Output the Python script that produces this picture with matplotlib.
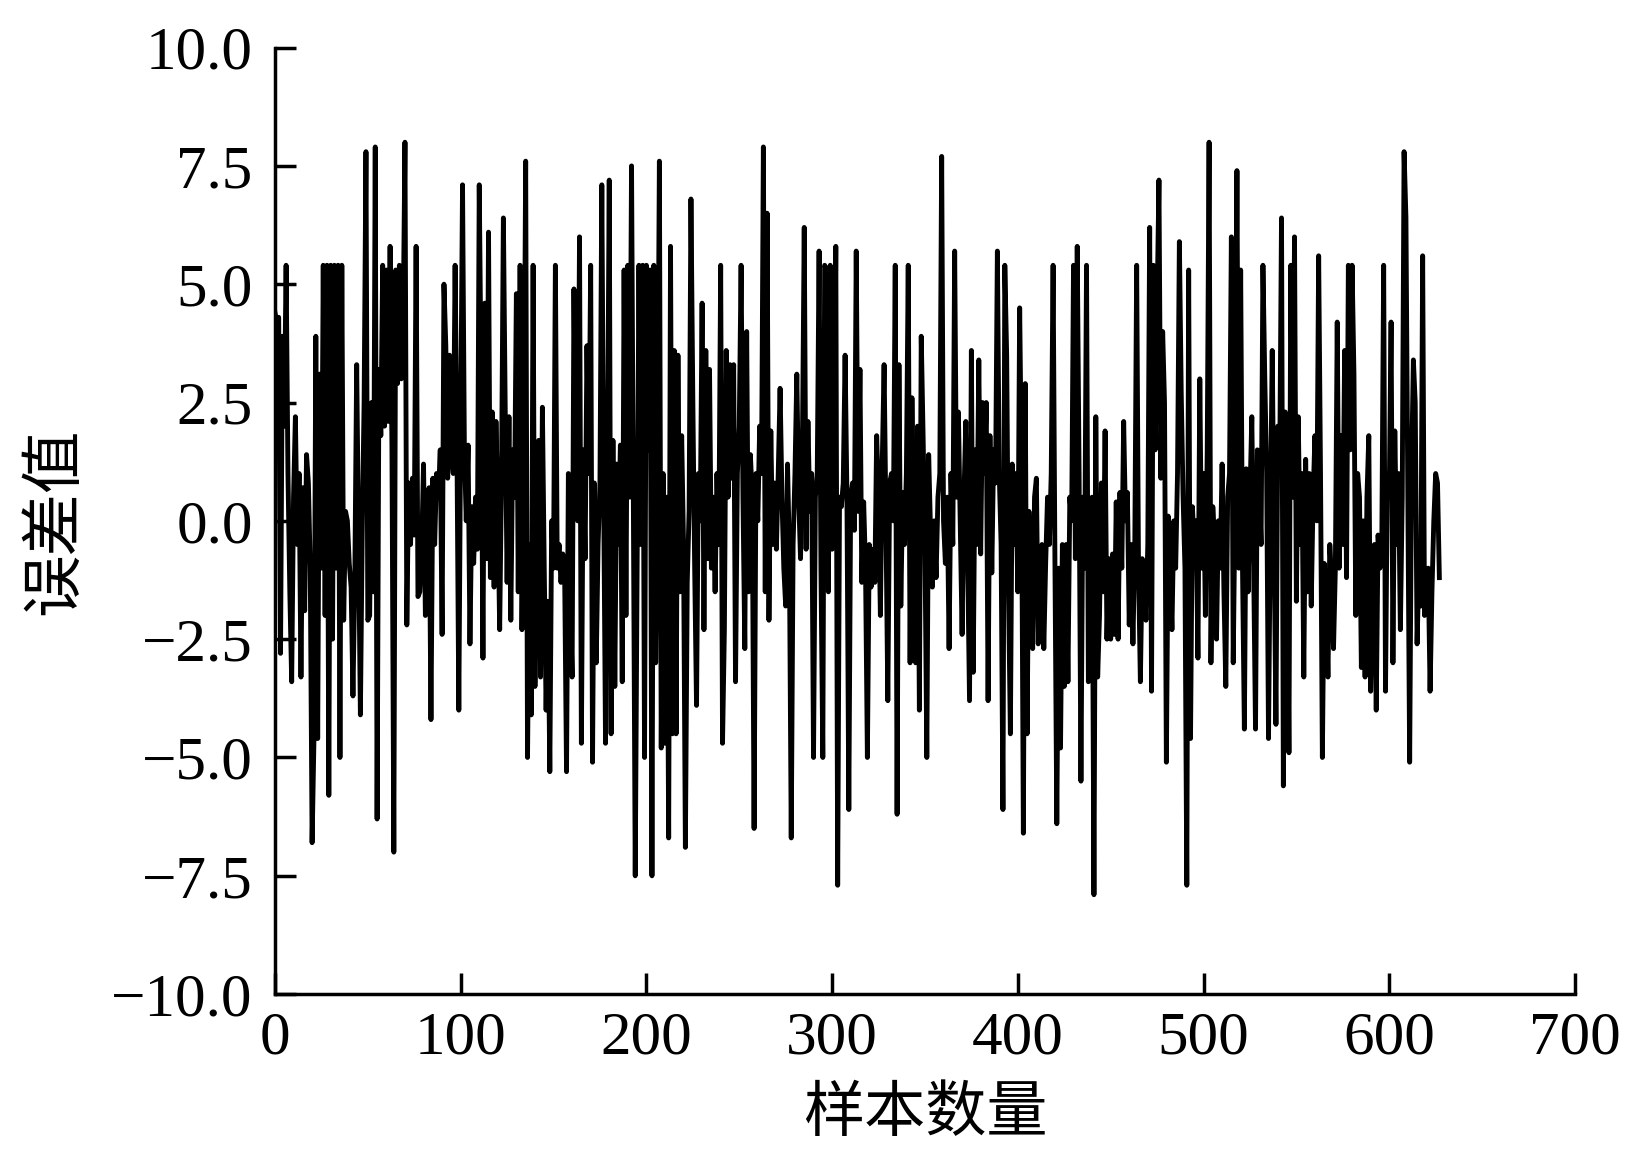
import numpy as np
import matplotlib
matplotlib.use('Agg')
import matplotlib.pyplot as plt

# Datos del error, leídos a ojo del gráfico (muestra 0 a 627)
err_000 = [4.4, 4.2, 4.3, -2.8, 3.9, 2.0, 5.4, 1.0, -1.5, -3.4,
           0.5, 2.2, -0.5, 1.0, -3.3, 0.7, -1.9, 1.4, 0.8, -1.0,
           -6.8, -4.6, 3.9, -4.6, 3.1, -1.0, 5.4, -2.0, 5.4, -5.8,
           5.4, -2.5, 5.4, -1.0, 5.4, -5.0, 5.4, -2.1, 0.2, 0.0,
           -0.9, -1.4, -3.7, -1.2, 3.3, -0.5, -4.1, -0.2, 2.5, 7.8,
           -2.1, -2.0, 2.5, -1.5, 7.9, -6.3, 3.2, 1.8, 5.4, 2.0,
           5.3, 2.1, 5.8, 1.5]
err_064 = [-7.0, 5.3, 2.9, 5.4, 3.0, 4.0, 8.0, -2.2, 0.8, -0.5,
           0.9, -0.3, 5.8, -1.6, -1.5, -0.6, 1.2, -2.0, 0.3, 0.7,
           -4.2, 0.9, -0.5, 1.0, 0.5, 1.5, -2.4, 5.0, 3.7, 0.9,
           3.5, 1.5, 1.0, 5.4, 1.5, -4.0, 2.0, 7.1, 1.5, 0.0,
           1.6, -2.6, 0.3, -0.9, 0.5, -0.6, 7.1, 3.0, -2.9, 4.6,
           -0.8, 6.1, -1.2, 2.3, -1.4, 2.1, 0.3, -2.3, 1.0, 6.4]
err_124 = [2.3, -1.3, 2.2, -2.1, 1.5, 0.5, 4.8, -1.5, 5.4, -2.3,
           1.0, 7.6, -5.0, -0.5, -4.1, 5.4, -3.5, 0.5, 1.7, -3.3,
           2.4, -1.0, -4.0, -1.7, -5.3, 0.0, -1.0, 5.4, -1.0, -0.5,
           -1.3, -0.7, -1.2, -5.3, 1.0, -1.5, -3.3, 4.9, 1.0, 0.0,
           6.0, -4.7, 1.5, -0.8, 3.7, 1.0, 5.4, -5.1, 0.8, -3.0,
           -0.5, 0.8, 7.1, 0.5, -4.7, 1.0, 7.2]
err_181 = [-4.5, 1.7, -3.5, 1.2, -0.5, 1.6, -3.4, 5.3, -2.0, 5.4,
           0.5, 7.5, 0.3, -7.5, -1.0, 5.4, -0.5, 5.4, -5.0, 5.4,
           1.5, 5.3, -7.5, 5.4, -3.0, 1.0, 7.6, -4.8, 1.0, -4.7,
           0.5, -6.7, 5.8, -4.5, 3.6, -4.5, 3.5, -1.5, 1.8, -0.5,
           -6.9, -1.3, 0.2, 6.8, 2.6, -1.0, -3.9, 1.0, 0.0, 4.6,
           -2.3, 3.6, -0.8, 3.2, -1.0, 0.5, -1.5, 1.0, -0.5, 5.4,
           -4.7, -2.3, 3.6, 0.5]
err_245 = [3.3, 0.9, 3.3, -3.4, 1.0, 2.0, 5.4, 0.5, -2.7, 4.0,
           -1.5, 1.4, 0.5, -6.5, 1.0, 0.0, 2.0, 1.0, 7.9, -1.5,
           6.5, -2.1, 1.9, -0.5, 0.8, -0.6, 1.0, 2.8, 0.5, -1.0,
           -1.8, 1.2, -0.7, -6.7, -0.5, 1.0, 3.1, 0.5, -0.8, 1.5,
           6.2, -0.6, 2.1, 0.2, 1.0, -5.0, 0.5, 1.0, 5.7, -1.0,
           -5.0, 5.4, 5.3, -1.5, 5.4, -0.6, 1.0, 5.8, -7.7]
err_304 = [0.5, 0.3, 0.8, 3.5, 0.5, -6.1, 0.5, 0.8, -0.2, 5.7,
           0.2, 3.2, -1.3, 0.4, -1.0, -5.0, -0.5, -1.4, -0.6, -1.3,
           1.8, 0.5, -2.0, 1.2, 3.3, 0.0, -3.8, 0.8, 1.0, 0.0,
           5.4, -6.2, 3.3, -1.8, 0.6, -0.5, 1.0, 5.4, -3.0, 2.6,
           -0.5, -3.0, 2.0, -4.0, 3.9, 1.8, -0.5, -5.0, 1.4, -0.2,
           -1.4, 0.0, -1.2, 0.5, 1.0, 7.7, 0.0, -0.9, 0.5, -2.7,
           1.0, -0.5]
err_366 = [5.7, 0.5, 2.3, 0.0, -2.4, 0.5, 2.1, -0.8, -3.8, 3.6,
           -3.2, 1.5, -0.5, 3.4, -0.7, 2.5, 1.0, 2.5, -3.8, 1.8,
           -1.1, 1.5, 0.8, 5.7, 1.0, -0.5, -6.1, 5.4, 3.5, -1.5,
           -4.5, 1.2, -0.5, 1.0, -1.5, 4.5, 1.0, -6.6, 2.9, -4.5,
           0.2, -1.2, -2.7, 0.5, 0.9, -2.6, -0.8, -0.5, -2.7, -0.9,
           0.5, -0.5, 1.0, 5.4, -0.9, -6.4, -1.0, -4.8, -0.5, -3.5]
err_426 = [-0.5, -3.4, 0.5, 0.0, 5.4, -0.8, 5.8, 1.0, -5.5, 0.5,
           -1.0, 5.4, -3.4, -1.0, 0.5, -7.9, 2.2, -3.3, -2.0, 0.8,
           -1.5, 1.9, -2.5, -0.8, -2.5, -0.7, -2.4, 0.4, -2.5, 0.6,
           -1.0, 2.1, 0.0, 0.6, -2.2, -0.5, -2.6, -0.5, 5.4, -1.0,
           -3.4, -0.8, -1.0, -2.1, -0.5, 6.2, -3.6, 5.4, 1.5, 4.5,
           7.2, 0.9, 4.0, 2.5, -5.1, 0.1, -1.0, -2.3, 0.0, -1.0,
           1.0, 5.9]
err_488 = [2.7, 0.5, -1.0, -7.7, 5.3, -4.6, 0.3, -0.5, 0.0, -2.9,
           3.0, -1.0, 1.0, -2.0, 1.5, 8.0, -3.0, 0.3, -0.5, -2.5,
           0.0, -1.0, 1.2, -1.5, -3.5, 0.5, 1.0, 6.0, -3.0, 0.5,
           7.4, -1.0, 5.3, -1.0, -4.4, 1.1, -1.5, 0.5, 2.2, -1.0,
           -4.4, 1.5, 0.8, -0.5, 5.4, 3.0, 1.0, -4.6, 0.0, 3.6,
           -0.5, -4.3, 2.0, 1.0, 6.4, -5.6, 2.3, 0.0, -4.9, 5.4,
           0.5, 6.0]
err_550 = [-1.7, 2.2, -0.5, 1.0, -3.3, 1.3, -1.5, 1.0, -1.8, 0.5,
           1.8, 0.0, 5.6, 1.0, -5.0, -0.9, -1.5, -3.3, -0.5, -1.3,
           -2.7, -1.0, 4.2, -1.0, 1.8, -0.5, 3.6, -1.2, 5.4, 1.5,
           5.4, 3.1, -2.0, 1.0, 0.5, -3.1, 0.0, -3.3, 0.5, 1.8,
           -3.6, -1.5, -0.5, -4.0, -0.3, -1.0, -0.5, 5.4, -3.6, 1.0,
           0.5, 4.2, -3.0, 1.9, -0.5, 1.0, -2.3, 0.5, 7.8, 6.4,
           0.5, -5.1]
err_612 = [1.0, 3.4, 2.5, -2.6, -1.0, -1.8, 5.6, -2.0, -1.5, -1.0,
           -3.6, -1.5, 0.0, 1.0, 0.8, -1.2]

error = np.array(err_000 + err_064 + err_124 + err_181 + err_245 + err_304
                 + err_366 + err_426 + err_488 + err_550 + err_612)
muestras = np.arange(len(error))

xticks = [0, 100, 200, 300, 400, 500, 600, 700]
yticks = [-10.0, -7.5, -5.0, -2.5, 0.0, 2.5, 5.0, 7.5, 10.0]

plt.rcParams['font.family'] = ['Liberation Serif', 'DejaVu Serif']

fig = plt.figure(figsize=(16.27, 11.6), dpi=100)
ax = fig.add_axes([0.169, 0.143, 0.799, 0.816])
ax.plot(muestras, error, color='black', linewidth=3.5)

ax.set_xlim(0, 700)
ax.set_ylim(-10, 10)
ax.set_xticks(xticks)
ax.set_yticks(yticks)
ax.set_yticklabels(['%.1f' % v if v >= 0 else '\u2212%.1f' % -v for v in yticks])

for lado in ['top', 'right']:
    ax.spines[lado].set_visible(False)
for lado in ['left', 'bottom']:
    ax.spines[lado].set_linewidth(2.5)

ax.tick_params(direction='in', length=15, width=2.5, labelsize=44)
ax.tick_params(axis='y', pad=16)
ax.tick_params(axis='x', pad=12)

cjk = ['Noto Sans CJK SC', 'DejaVu Sans']
ax.set_xlabel('样本数量', family=cjk, fontsize=44, labelpad=12)
ax.set_ylabel('误差值', family=cjk, fontsize=45, labelpad=18)

fig.savefig('out.png', dpi=100)
